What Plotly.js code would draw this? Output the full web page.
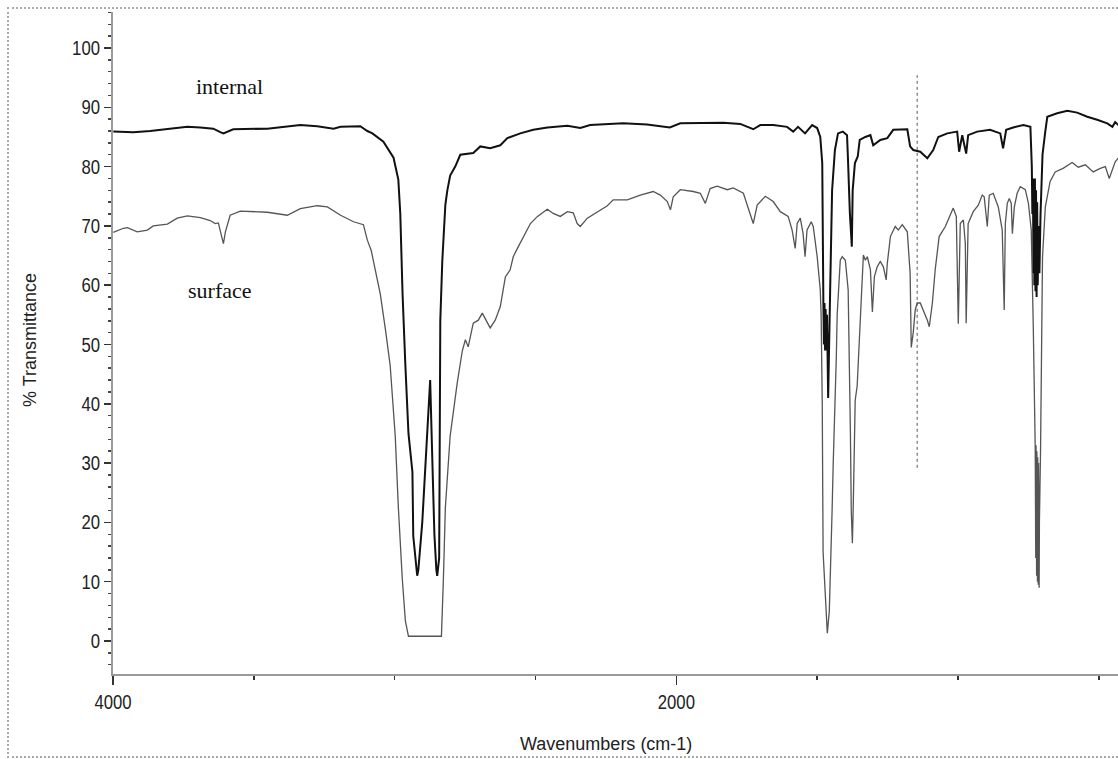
<!DOCTYPE html>
<html>
<head>
<meta charset="utf-8">
<script src="https://cdn.plot.ly/plotly-3.0.1.min.js"></script>
<style>
  html, body { margin: 0; padding: 0; background: #fff; }
  #wrap { position: relative; width: 1118px; height: 759px; overflow: hidden; }
  #chart { position: absolute; left: 0; top: 0; width: 1118px; height: 759px; }
  #frame { position: absolute; left: 7px; top: 7px; width: 1111px; height: 751px; box-sizing: border-box;
           border-left: 2px dotted #aaa; border-top: 2px dotted #aaa; border-bottom: 2px dotted #aaa;
           pointer-events: none; }
</style>
</head>
<body>
<div id="wrap"><div id="chart"></div><div id="frame"></div></div>
<script>
// ---- data ----
const internalWn = [3999,3928,3868,3807,3736,3690,3644,3619,3608,3573,
  3452,3335,3275,3217,3192,3122,3097,3079,3040,3004,
  2987,2980,2972,2962,2951,2937,2934,2920,2916,2902,
  2891,2881,2874,2866,2859,2852,2849,2842,2838,2831,
  2820,2813,2803,2785,2767,2721,2696,2661,2625,2600,
  2554,2508,2458,2387,2341,2306,2189,2104,2023,1986,
  1890,1833,1773,1727,1702,1656,1607,1585,1568,1543,
  1518,1500,1489,1482,1478,1476,1474,1472,1470,1468,1465,1463,1461,1454,1447,1437,
  1426,1409,1394,1391,1384,1377,1374,1366,1356,1349,
  1329,1311,1301,1276,1251,1230,1180,1170,1159,1134,
  1109,1088,1070,1038,1003,996,985,971,964,932,
  886,850,840,829,804,768,743,738,736,734,732,731,729,727,725,723,721,719,717,714,711,
  707,700,690,683,648,612,577,541,
  506,470,452,442,431];
const internalT = [85.9,85.8,86.0,86.3,86.7,86.6,86.4,85.8,85.6,86.3,
  86.4,87.0,86.8,86.4,86.7,86.8,86.0,85.6,84.2,81.5,
  77.8,72,58.5,46.5,35,28.5,17.7,11,12,20,
  30,38,44,30,18,12,11,14,54,64,
  73.6,76,78.5,80,82,82.3,83.4,83.1,83.6,84.8,
  85.6,86.2,86.6,86.9,86.5,87.0,87.3,87.1,86.6,87.3,
  87.4,87.4,87.2,86.3,87.0,87.0,86.7,85.9,86.7,85.6,
  87.0,86.5,85.0,80.6,57,50,57,49,56,49,55,48,41,59,76,82.8,
  85.6,85.9,85.3,81.7,72.2,66.5,76,80.6,81.7,84.5,
  85.0,85.3,83.6,84.5,84.8,86.2,86.3,83.4,82.8,82.5,
  81.4,82.8,85.0,85.6,85.9,82.5,85.3,82.2,85.3,85.9,
  86.2,85.6,83.1,86.2,86.6,87.0,86.7,80,72,78,62,77,60,78,59,76,58,74,60,70,62,
  72,82,86,88.4,89.0,89.4,89.1,88.4,
  87.9,87.3,86.7,87.5,87.0];

const surfaceWn = [3999,3963,3949,3914,3878,3857,3807,3772,3736,3690,
  3655,3637,3626,3616,3608,3601,3584,3548,3452,3381,
  3335,3275,3239,3192,3146,3111,3097,3083,3069,3051,
  3033,3016,2998,2987,2973,2962,2951,2891,2834,2827,
  2820,2803,2778,2760,2749,2739,2721,2703,2689,2661,
  2643,2625,2607,2590,2579,2561,2543,2518,2493,2458,
  2437,2412,2387,2366,2352,2341,2316,2281,2245,2224,
  2174,2128,2082,2057,2032,2021,2011,1986,1940,1915,
  1897,1880,1855,1819,1798,1762,1745,1727,1713,1684,
  1656,1631,1603,1589,1578,1571,1560,1550,1543,1536,
  1521,1514,1500,1489,1486,1482,1479,1471,1464,1457,
  1450,1447,1443,1436,1432,1429,1418,1411,1400,1390,
  1386,1382,1379,1375,1372,1365,1358,1354,1347,1344,
  1336,1329,1322,1311,1304,1297,1287,1276,1265,1255,
  1251,1240,1223,1212,1198,1180,1170,1166,1159,1152,
  1145,1134,1123,1109,1102,1091,1081,1067,1045,1027,
  1017,1006,1003,999,992,981,974,971,964,946,
  928,914,907,896,889,875,857,843,836,832,
  825,818,811,807,800,790,779,761,750,740,
  733,729,726,724,723,721,720,718,717,715,714,712,711,707,704,700,690,
  673,655,627,595,573,548,520,495,477,463,
  452,442,431];
const surfaceT = [68.9,69.6,69.7,69.0,69.3,70.0,70.3,71.3,71.7,71.4,
  70.9,70.4,70.5,68.7,67.0,69.0,71.8,72.5,72.3,71.8,
  72.9,73.4,73.2,71.8,70.7,70.2,67.6,65.8,62.7,58.5,
  52.6,46.5,34.6,22.6,10.5,3.4,0.8,0.8,0.8,10.5,
  22.5,34.6,43.5,48.9,50.8,49.6,53.6,54.1,55.3,52.8,
  54.1,56.4,61.4,62.6,64.8,66.5,68.2,70.4,71.6,72.8,
  72.1,71.6,72.4,72.2,70.4,69.9,71.3,72.4,73.4,74.4,
  74.4,75.2,75.8,75.2,74.1,72.7,74.9,76.1,75.8,75.5,
  73.8,76.3,76.7,76.1,76.4,75.5,73.2,70.4,73.5,75.0,
  74.1,72.4,71.6,69.3,66.2,70.4,71.3,68.7,64.8,69.3,
  70.7,69.9,64.8,59.2,55,40,15,8,1.3,5,
  15,22,30,40,48,55,64.2,64.8,64.2,59.2,
  50,35,22,16.5,22.6,40.6,43,47.4,52.4,58,
  65.1,64.2,64.8,62.6,55.5,61.4,63.1,64.0,63.1,60.9,
  63.7,68.2,69.9,69.3,70.2,69.0,62.0,49.5,52,55.8,
  57.0,57.0,55.8,54.1,53.0,57.0,62.6,68.2,69.9,72.1,
  73.0,71.6,65.4,53.5,70.4,71.0,67.0,53.6,70.4,72.4,
  73.5,75.2,74.9,69.9,75.2,75.5,73.2,69.3,55.8,70.4,
  73.8,74.6,73.8,68.7,73.2,75.5,76.6,76.1,73.8,69.3,
  53.6,40,33,14,33,11,32,10,31,9.5,30,9,20,32,50,64.8,73.2,
  77.5,79.1,79.7,80.7,79.9,80.3,79.1,79.7,80.0,78.0,
  79.4,80.8,81.4];

const markerWn = 1145;          // vertical dotted marker
const markerRange = [29.2, 95.4];
const xTickVals = [4000, 2000];
const xTickText = ['4000', '2000'];
const xMinorVals = [3500, 3000, 2500, 1500, 1000, 500];
const yTickVals = [0,10,20,30,40,50,60,70,80,90,100];
const yTickText = yTickVals.map(String);

const tickFont = {family: '"Liberation Sans", Arial, sans-serif', size: 20, color: '#222'};
const titleFont = {family: '"Liberation Sans", Arial, sans-serif', size: 18, color: '#222'};
const serifFont = {family: '"Liberation Serif", "Times New Roman", serif', size: 22, color: '#111'};

const traces = [
  {x: surfaceWn, y: surfaceT, type: 'scatter', mode: 'lines', name: 'surface',
   line: {color: '#555', width: 1.3}, hoverinfo: 'skip'},
  {x: internalWn, y: internalT, type: 'scatter', mode: 'lines', name: 'internal',
   line: {color: '#111', width: 2}, hoverinfo: 'skip'}
];

const layout = {
  width: 1118, height: 759,
  margin: {l: 113, r: 0, t: 12, b: 85},
  paper_bgcolor: '#fff', plot_bgcolor: '#fff',
  showlegend: false,
  xaxis: {
    range: [4000, 432], showgrid: false, zeroline: false,
    showline: true, linecolor: '#9a9a9a', linewidth: 2,
    tickmode: 'array', tickvals: xTickVals, ticktext: xTickText,
    ticks: 'outside', ticklen: 9, tickwidth: 1.5, tickcolor: '#333',
    tickfont: tickFont,
    minor: {tickmode: 'array', tickvals: xMinorVals, ticks: 'outside', ticklen: 4, tickcolor: '#333', tickwidth: 1.5, showgrid: false}
  },
  yaxis: {
    range: [-5.565, 106.07], showgrid: false, zeroline: false,
    showline: true, linecolor: '#9a9a9a', linewidth: 2,
    tickmode: 'array', tickvals: yTickVals, ticktext: yTickText,
    ticks: 'outside', ticklen: 7, tickwidth: 1.5, tickcolor: '#333',
    tickfont: tickFont,
    minor: {dtick: 2, tick0: 0, ticks: 'outside', ticklen: 3, tickcolor: '#444', tickwidth: 1.5, showgrid: false}
  },
  shapes: [
    {type: 'line', xref: 'x', yref: 'y', x0: markerWn, x1: markerWn, y0: markerRange[0], y1: markerRange[1],
     line: {color: '#555', width: 1, dash: 'dot'}}
  ],
  annotations: [
    {text: '% Transmittance', xref: 'paper', yref: 'paper', x: -0.0826, y: 0.5045,
     xanchor: 'center', yanchor: 'middle', textangle: -90, showarrow: false, font: titleFont},
    {text: 'Wavenumbers (cm-1)', xref: 'paper', yref: 'paper', x: 0.491, y: -0.1057,
     xanchor: 'center', yanchor: 'middle', showarrow: false, font: titleFont},
    {text: 'internal', xref: 'paper', yref: 'paper', x: 0.1164, y: 0.8875,
     xanchor: 'center', yanchor: 'middle', showarrow: false, font: serifFont},
    {text: 'surface', xref: 'paper', yref: 'paper', x: 0.1065, y: 0.58,
     xanchor: 'center', yanchor: 'middle', showarrow: false, font: serifFont}
  ]
};

Plotly.newPlot('chart', traces, layout, {displayModeBar: false, staticPlot: true}).then(function (gd) {
  // narrow the tick labels like the condensed face of the original
  gd.querySelectorAll('.xtick text, .ytick text').forEach(function (t) {
    const n = (t.textContent || '').length;
    t.setAttribute('textLength', (n * 9.3).toFixed(1));
    t.setAttribute('lengthAdjust', 'spacingAndGlyphs');
  });
});
</script>
</body>
</html>
